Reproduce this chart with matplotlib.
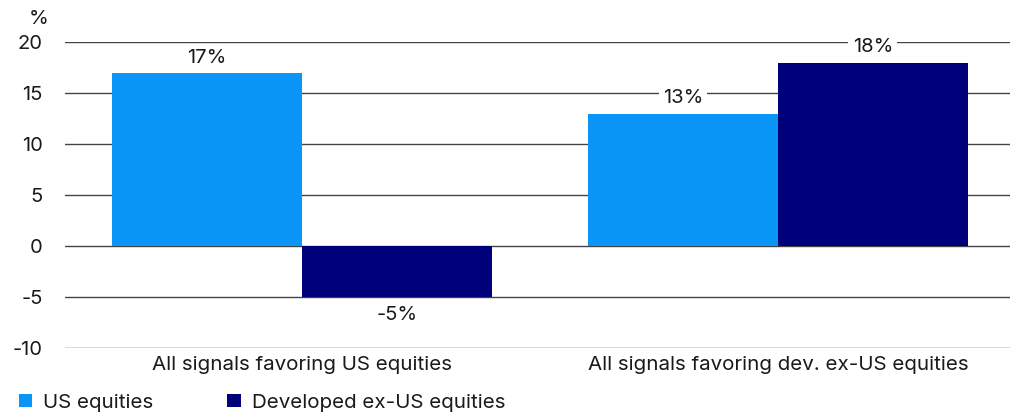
import matplotlib.pyplot as plt
import numpy as np
from matplotlib.patches import Patch

plt.rcParams['font.family'] = ['Inter', 'DejaVu Sans']

categories = ["All signals favoring US equities", "All signals favoring dev. ex-US equities"]
series_names = ["US equities", "Developed ex-US equities"]
us_values = [17, 13]
dev_values = [-5, 18]
yticks = [-10, -5, 0, 5, 10, 15, 20]
colors = ["#0A96F7", "#00007A"]

fig = plt.figure(figsize=(10.23, 4.13), dpi=100)
ax = fig.add_axes([0.0635, 0.157, 0.9235, 0.741])

x = np.arange(len(categories))
w = 0.399
b1 = ax.bar(x - w/2, us_values, w, color=colors[0], zorder=2)
b2 = ax.bar(x + w/2, dev_values, w, color=colors[1], zorder=2)

for bars, vals in ((b1, us_values), (b2, dev_values)):
    for rect, v in zip(bars, vals):
        cx = rect.get_x() + rect.get_width()/2
        if v >= 0:
            ax.text(cx, v + 0.6, f"{v}%", ha='center', va='bottom', fontsize=14.5,
                    color='#1a1a1a', zorder=3,
                    bbox=dict(facecolor='white', edgecolor='none', pad=3))
        else:
            ax.text(cx, v - 0.9, f"{v}%", ha='center', va='top', fontsize=14.5,
                    color='#1a1a1a', zorder=3,
                    bbox=dict(facecolor='white', edgecolor='none', pad=3))

ax.set_ylim(-10, 20)
ax.set_xlim(-0.498, 1.487)
ax.set_yticks(yticks)
ax.set_yticklabels([str(t) for t in yticks], fontsize=14.5, color='#1a1a1a')
ax.set_xticks(x)
ax.set_xticklabels(categories, fontsize=14.8, color='#1a1a1a')
ax.tick_params(axis='both', length=0)
ax.tick_params(axis='y', pad=16)
ax.tick_params(axis='x', pad=6)
ax.yaxis.grid(True, color='#444444', linewidth=1.0, zorder=0)
ax.set_axisbelow(True)
for s in ax.spines.values():
    s.set_visible(False)

fig.text(0.047, 0.955, "%", ha='right', va='center', fontsize=14.5, color='#1a1a1a')

handles = [Patch(facecolor=c, edgecolor='none') for c in colors]
fig.legend(handles, series_names, loc='lower left', bbox_to_anchor=(0.0, -0.042),
           ncol=2, frameon=False, fontsize=14.8, handlelength=0.65, handleheight=0.65,
           handletextpad=0.55, columnspacing=3.6, labelcolor='#1a1a1a')

fig.savefig("out.png", dpi=100)
